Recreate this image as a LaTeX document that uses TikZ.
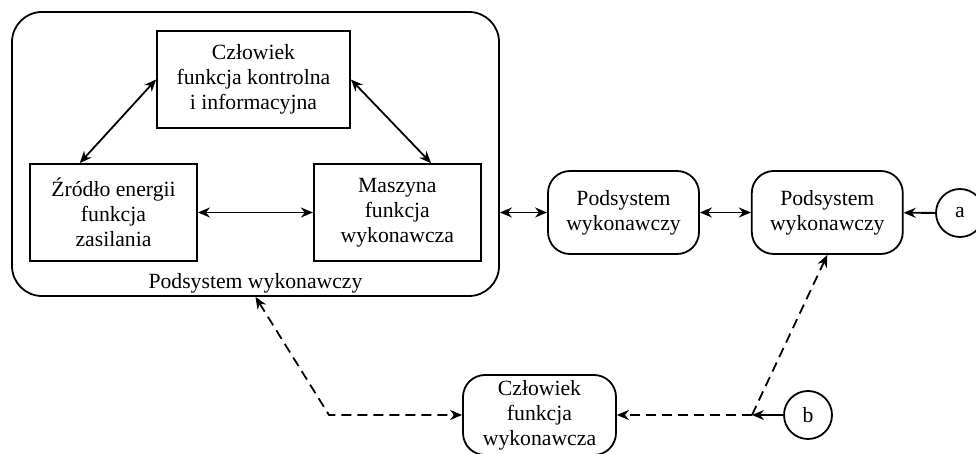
\documentclass[tikz,border=0pt]{standalone}
\usepackage{fontspec}
\setmainfont{Liberation Serif}
\usetikzlibrary{arrows.meta,positioning,calc}

\begin{document}
\begin{tikzpicture}[x=0.5pt,y=-0.5pt,line width=0.9pt,
every node/.style={font=\fontsize{10.85}{12.5}\selectfont,align=center,inner sep=0pt},
blok/.style={draw,minimum width=83.5pt,minimum height=48.5pt},
zaokr/.style={draw,rounded corners=11pt,minimum width=75.5pt,minimum height=41.5pt},
kolo/.style={draw,circle,minimum size=24pt},
strz/.style={{Stealth[length=6pt,width=5pt]}-{Stealth[length=6pt,width=5pt]}},
grot/.style={-{Stealth[length=6pt,width=5pt]}},
kreska/.style={dash pattern=on 5pt off 3pt}]
\useasboundingbox(0,0)rectangle(976,454);
\node(PW)[draw,rounded corners=15pt,minimum width=243.5pt,minimum height=142pt] at (255.5,154){};
\node(PWL)[above=1.5pt of PW.south]{Podsystem wykonawczy};
\node(C)[blok,minimum width=96.5pt] at (253.5,79.5){Człowiek\\funkcja kontrolna\\i informacyjna};
\node(ZE)[blok] at (113.5,212.5){Źródło energii\\funkcja\\zasilania};
\node(M)[blok,right=57.5pt of ZE]{Maszyna\\funkcja\\wykonawcza};
\node(P1)[zaokr] at (623.5,212.5){Podsystem\\wykonawczy};
\node(P2)[zaokr,right=25.5pt of P1]{Podsystem\\wykonawczy};
\node(A)[kolo] at (960,213){a};
\node(B)[kolo] at (808,415){b};
\node(C2)[zaokr,minimum width=76.5pt,minimum height=40pt] at (539.5,415){Człowiek\\funkcja\\wykonawcza};
\coordinate(J) at (752,415);
\coordinate(K) at (329,415);
\draw[strz](ZE)--(M);
\draw[strz](C.west)--($(ZE.north west)!0.3!(ZE.north east)$);
\draw[strz](C.east)--($(M.north west)!0.7!(M.north east)$);
\draw[strz](PW.east|-P1.west)--(P1.west);
\draw[strz](P1)--(P2);
\draw[grot](A)--(P2);
\draw[grot](B)--(J);
\draw[kreska,grot](J)--(C2);
\draw[kreska,grot](J)--(P2.south);
\draw[kreska,strz](PW.south)--(K)--(C2);
\end{tikzpicture}
\end{document}
